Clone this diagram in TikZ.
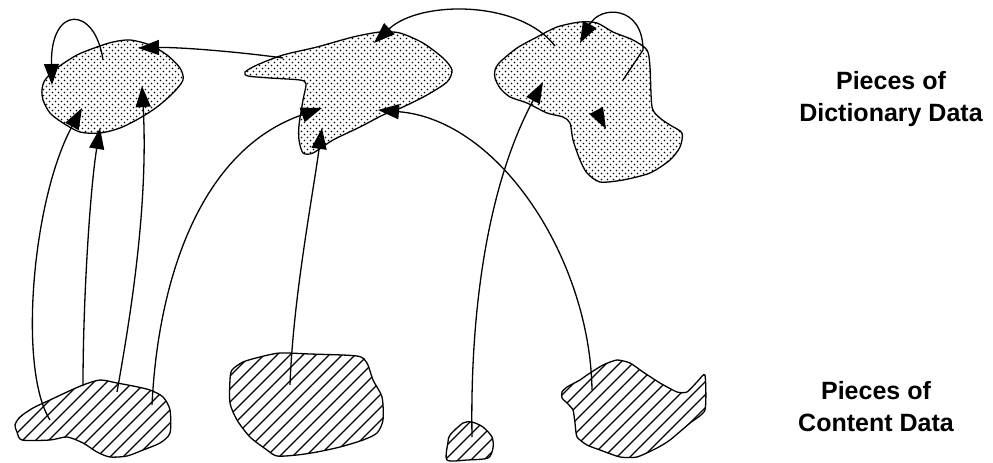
\documentclass[tikz,border=0pt]{standalone}
\usepackage{fontspec}
\setmainfont{Liberation Sans}
\usetikzlibrary{arrows.meta,patterns}

% fill patterns for the two kinds of pieces
\pgfdeclarepatternformonly{stipple}{\pgfqpoint{-1pt}{-1pt}}{\pgfqpoint{7pt}{7pt}}{\pgfqpoint{6pt}{6pt}}{%
  \pgfpathcircle{\pgfqpoint{1.5pt}{1.5pt}}{0.95pt}%
  \pgfpathcircle{\pgfqpoint{4.5pt}{4.5pt}}{0.95pt}%
  \pgfusepath{fill}}
\pgfdeclarepatternformonly{hatch}{\pgfqpoint{-1pt}{-1pt}}{\pgfqpoint{14pt}{14pt}}{\pgfqpoint{13pt}{13pt}}{%
  \pgfsetlinewidth{1.1pt}%
  \pgfpathmoveto{\pgfqpoint{0pt}{0pt}}\pgfpathlineto{\pgfqpoint{13.1pt}{13.1pt}}%
  \pgfusepath{stroke}}

\begin{document}
\begin{tikzpicture}[x=1pt,y=-1pt,line width=1.3pt,line join=round,
  >={Triangle[length=21pt,width=15pt]},
  dict/.style={draw,pattern=stipple},
  cont/.style={draw,pattern=hatch},
  link/.style={->},
  lbl/.style={font=\bfseries\fontsize{25}{32}\selectfont,align=center}]
 \useasboundingbox (0,0) rectangle (993,463);
 % dictionary pieces
 \draw[dict] plot[smooth cycle,tension=0.5] coordinates {(42,90) (45,80) (57,68) (77,55) (97,47) (113,42) (130,40) (150,45) (167,55) (180,68) (183,80) (173,93) (157,107) (140,118) (120,128) (100,133) (80,132) (63,123) (50,113) (43,100)};
 \draw[dict] plot[smooth cycle,tension=0.45] coordinates {(245,72) (257,65) (283,55) (317,47) (353,37) (380,32) (400,33) (423,43) (443,58) (452,70) (447,82) (427,95) (403,107) (383,115) (360,127) (333,140) (313,153) (303,153) (299,140) (299,125) (303,100) (306,84) (300,80) (270,78) (248,76)};
 \draw[dict] plot[smooth cycle,tension=0.45] coordinates {(495,70) (500,62) (517,48) (537,37) (557,27) (580,22) (597,23) (613,32) (633,40) (647,50) (650,67) (652,107) (660,118) (670,125) (682,133) (680,147) (670,160) (650,173) (623,180) (600,182) (587,173) (580,160) (573,140) (570,123) (563,117) (547,113) (527,103) (510,97) (500,88) (495,78)};
 % content pieces
 \draw[cont] plot[smooth cycle,tension=0.45] coordinates {(15,425) (17,432) (22,440) (50,440) (67,437) (83,443) (97,452) (110,457) (127,456) (143,450) (160,443) (170,433) (170,410) (163,397) (150,390) (133,386) (117,383) (100,380) (83,385) (67,392) (50,400) (33,408) (20,417)};
 \draw[cont] plot[smooth cycle,tension=0.45] coordinates {(230,380) (232,370) (243,362) (260,357) (280,353) (310,354) (357,356) (367,363) (373,380) (382,397) (383,420) (377,433) (363,440) (340,447) (317,452) (297,455) (277,456) (267,450) (250,437) (237,420) (230,403)};
 \draw[cont] plot[smooth cycle,tension=0.45] coordinates {(448,442) (450,435) (463,423) (472,422) (483,427) (492,437) (493,448) (488,458) (467,460) (447,460)};
 \draw[cont] plot[smooth cycle,tension=0.35] coordinates {(562,392) (567,387) (580,380) (587,375) (603,365) (617,360) (630,363) (643,372) (660,383) (677,392) (687,392) (697,382) (705,375) (705,410) (690,423) (670,440) (657,448) (637,457) (620,457) (600,450) (587,445) (577,437) (575,423) (573,410) (567,403) (562,398)};

 % link ends
 \coordinate (cl1) at (50,420);  \coordinate (cl2) at (83,386);
 \coordinate (cl3) at (117,392); \coordinate (cl4) at (152,405);
 \coordinate (cm) at (290,385);  \coordinate (cs) at (472,437);
 \coordinate (cr) at (592,390);
 \coordinate (dl1) at (82,108);  \coordinate (dl2) at (100,128);
 \coordinate (dl3) at (142,86);  \coordinate (dl4) at (138,48);
 \coordinate (dl5) at (103,60);  \coordinate (dl6) at (52,85);
 \coordinate (dm1) at (322,108); \coordinate (dm2) at (322,128);
 \coordinate (dm3) at (378,110); \coordinate (dm4) at (374,43);
 \coordinate (dm5) at (283,58);
 \coordinate (dr1) at (543,82);  \coordinate (dr2) at (555,46);
 \coordinate (dr3) at (623,80);  \coordinate (dr4) at (643,50);
 \coordinate (dr5) at (580,43);
 \coordinate (dr6) at (597,112); \coordinate (dr7) at (606,129);

 % content -> dictionary
 \draw[link] (cl1) .. controls (18,370) and (32,200) .. (dl1);
 \draw[link] (cl2) .. controls (83,300) and (90,190) .. (dl2);
 \draw[link] (cl3) .. controls (128,330) and (149,210) .. (dl3);
 \draw[link] (cl4) .. controls (158,280) and (200,150) .. (dm1);
 \draw[link] (cm) .. controls (293,300) and (312,200) .. (dm2);
 \draw[link] (cs) .. controls (470,320) and (485,190) .. (dr1);
 \draw[link] (cr) .. controls (590,260) and (500,120) .. (dm3);
 % dictionary -> dictionary
 \draw[link] (dm5) .. controls (240,52) and (180,47) .. (dl4);
 \draw[link] (dr2) .. controls (520,0) and (420,0) .. (dm4);
 \draw[link] (dl5) .. controls (95,5) and (50,5) .. (dl6);
 \draw[link] (dr3) -- (dr4) .. controls (643,5) and (600,5) .. (dr5);
 \draw[link] (dr6) -- (dr7);

 \node[lbl] (dictlbl) at (891,99) {Pieces of\\Dictionary Data};
 \node[lbl] (contlbl) at (876,407) {Pieces of\\Content Data};
\end{tikzpicture}
\end{document}
